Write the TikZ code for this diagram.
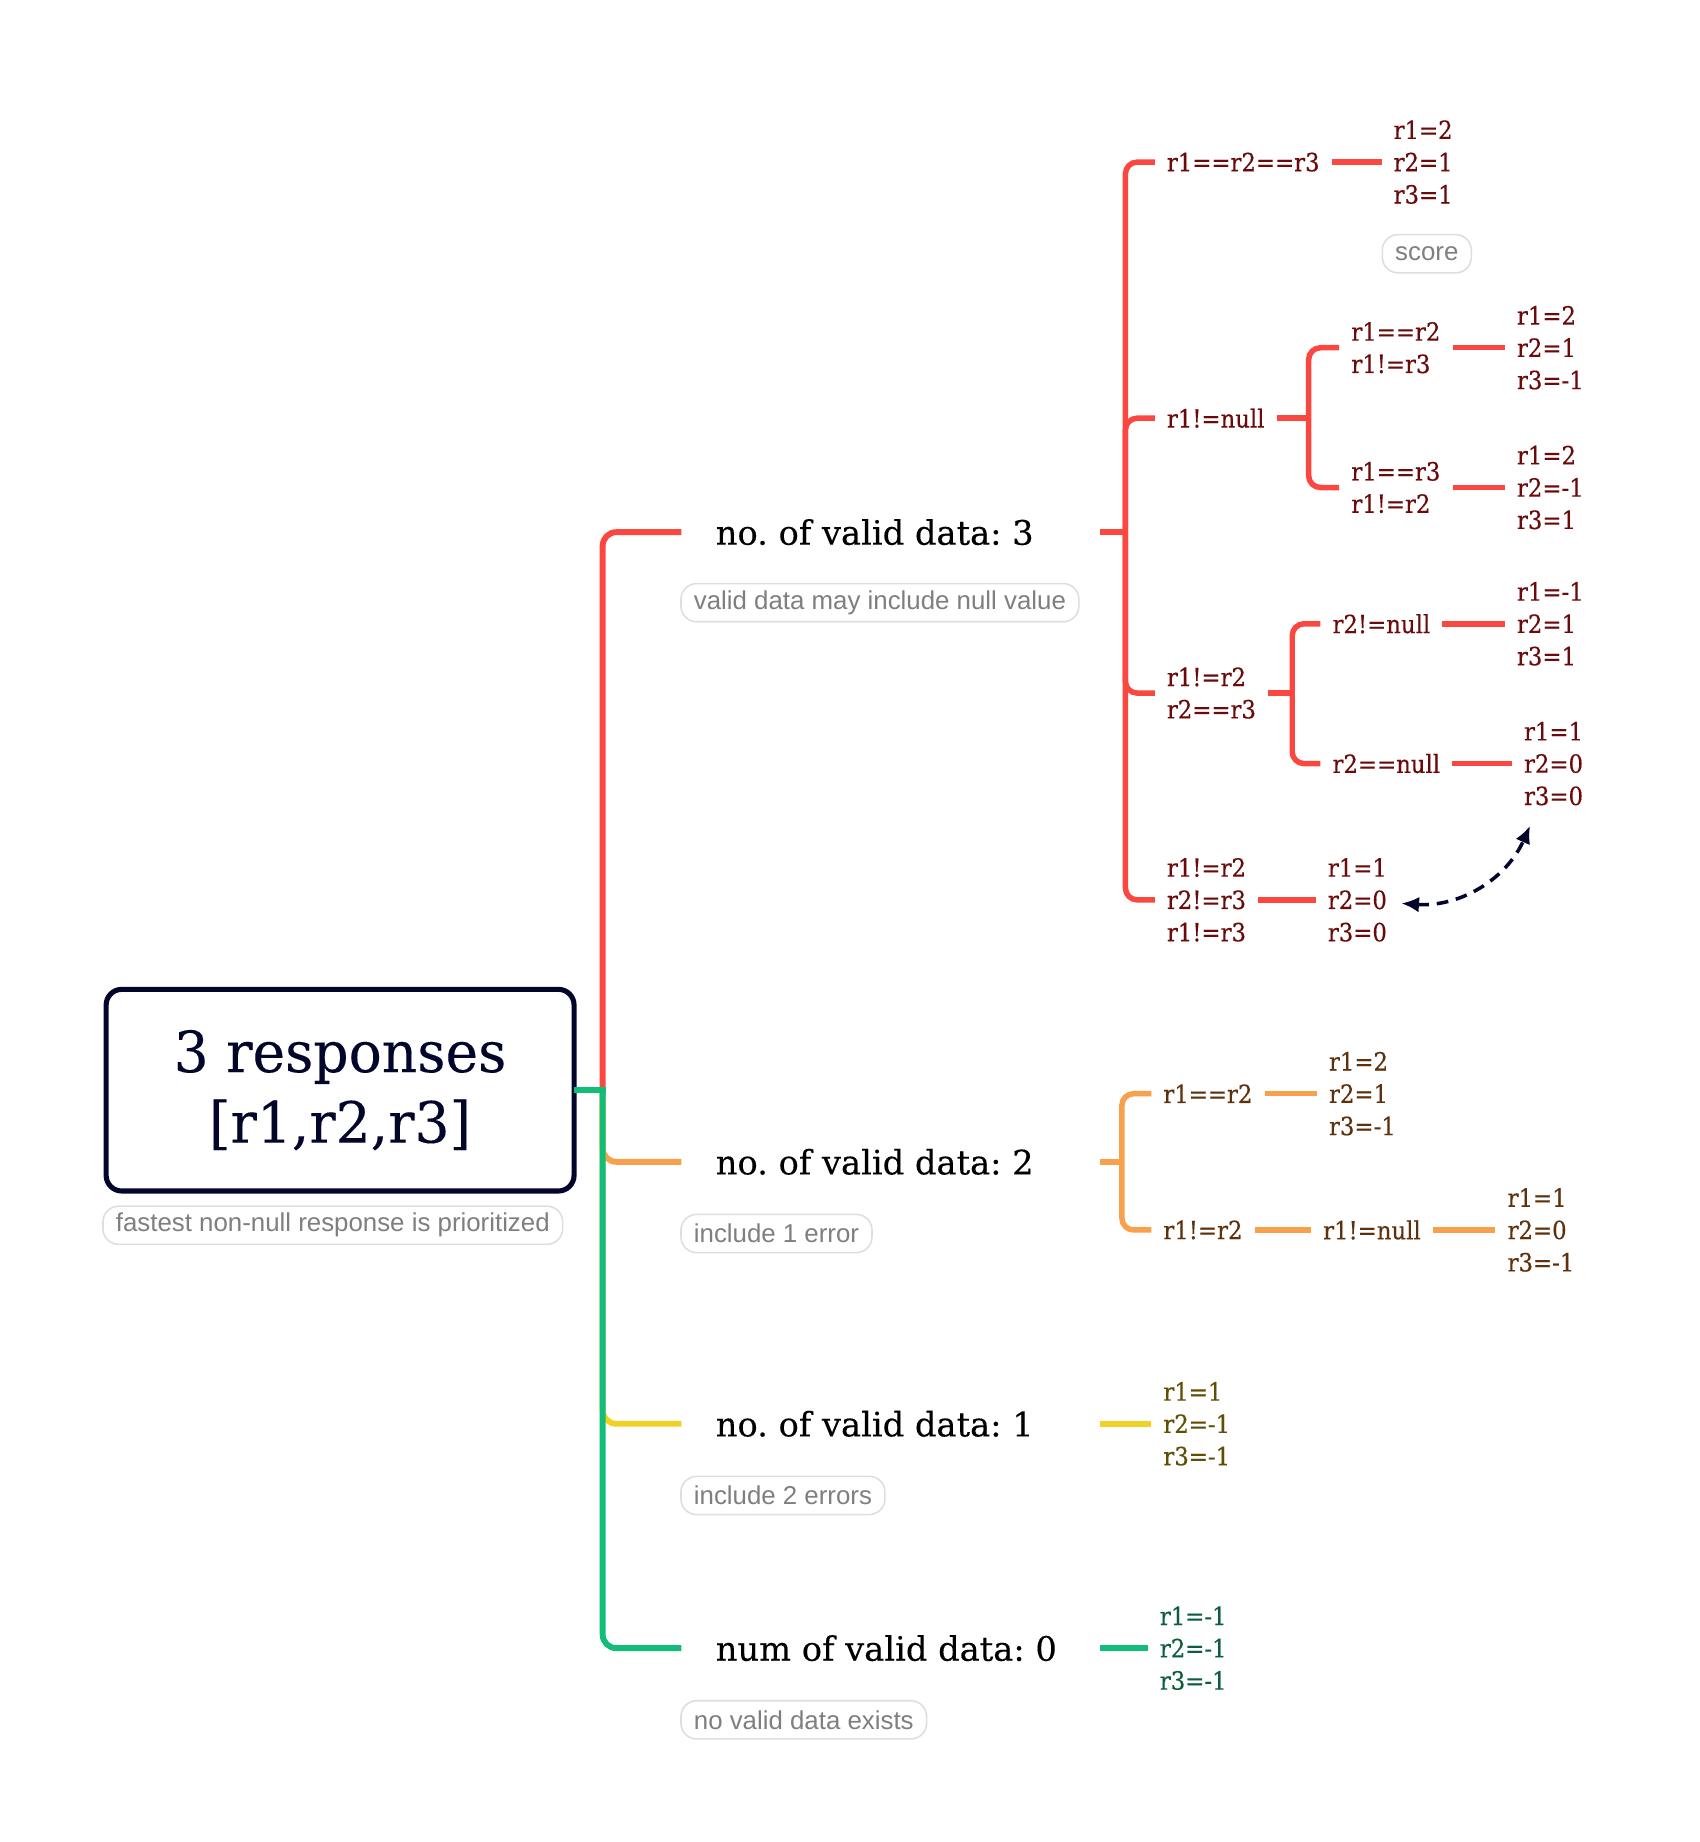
\documentclass[tikz,border=0pt]{standalone}
\usepackage{fontspec}
\setmainfont{DejaVu Serif}
\newfontfamily\smallfont[FakeStretch=0.91,FakeBold=0.3]{DejaVu Serif}
\newfontfamily\bigfont[FakeBold=0.2]{DejaVu Serif}
\newfontfamily\rootfont[FakeStretch=0.97,FakeBold=0.2]{DejaVu Serif}
\newfontfamily\notefont{Liberation Sans}
\frenchspacing
\usetikzlibrary{arrows.meta,calc}
\definecolor{xred}{HTML}{FA4840}
\definecolor{xorange}{HTML}{F8A04C}
\definecolor{xyellow}{HTML}{F2D024}
\definecolor{xgreen}{HTML}{12BC79}
\definecolor{tred}{HTML}{6A0A0A}
\definecolor{torange}{HTML}{5E300B}
\definecolor{tyellow}{HTML}{5F4E04}
\definecolor{tgreen}{HTML}{0B5E3B}
\definecolor{navy}{HTML}{03062B}
\definecolor{notegray}{HTML}{DEDEDE}
\definecolor{notetext}{HTML}{7F7F7F}
\begin{document}
\begin{tikzpicture}[x=0.6pt,y=-0.6pt,
  big/.style={anchor=west, inner xsep=17.4pt, inner ysep=0pt, text=black, font=\bigfont\fontsize{17.2}{20}\selectfont},
  small/.style={anchor=west, inner xsep=6pt, inner ysep=0pt, align=left, font=\smallfont\fontsize{12.8}{16.5}\selectfont},
  note/.style={anchor=west, draw=notegray, line width=0.8pt, rounded corners=8pt, fill=white, text=notetext, inner xsep=6.6pt, inner ysep=0pt, minimum height=19.5pt, font=\notefont\fontsize{13.2}{15}\selectfont},
  trunk/.style={line width=3pt, rounded corners=7pt},
  fork/.style={line width=2.8pt, rounded corners=6pt},
  lk/.style={line width=2.8pt},
  dasharrow/.style={navy, line width=1.8pt, dash pattern=on 6pt off 4pt, {Latex[length=9pt,width=8pt]}-{Latex[length=9pt,width=8pt]}},
]
\useasboundingbox (0,0) rectangle (1447,1568);

% ---------- nodes ----------
\node[draw=navy, line width=2.6pt, rounded corners=8pt, fill=white, minimum width=239pt, minimum height=103pt, align=center, text=navy, font=\rootfont\fontsize{29}{36}\selectfont] (root) at (289.5,928) {3 responses\\{[r1,r2,r3]}};
\node[note] (rootnote) at (87,1043) {fastest non-null response is prioritized};

\coordinate (tj) at (513,928);

\node[big] (b1) at (580,453) {\makebox[178.8pt][l]{no. of valid data: 3}};
\node[note] (n1) at (579,513) {valid data may include null value};
\node[big] (b2) at (580,989) {\makebox[178.8pt][l]{no. of valid data: 2}};
\node[note] (n2) at (579,1050) {include 1 error};
\node[big] (b3) at (580,1212) {\makebox[178.8pt][l]{no. of valid data: 1}};
\node[note] (n3) at (579,1273) {include 2 errors};
\node[big] (b4) at (580,1403) {\makebox[178.8pt][l]{num of valid data: 0}};
\node[note] (n4) at (579,1464) {no valid data exists};

% branch 1 (red)
\coordinate (f1) at (958,453);
\begin{scope}[every node/.style={small, text=tred}]
\node (c11) at (983,138) {r1==r2==r3};
\node (v11) at (1176,138) {r1=2\\r2=1\\r3=1};
\node (c12) at (983,356) {r1!=null};
\coordinate (f12) at (1114,356);
\node (c121) at (1140,296) {r1==r2\\r1!=r3};
\node (v121) at (1281,296) {r1=2\\r2=1\\r3=-1};
\node (c122) at (1140,415) {r1==r3\\r1!=r2};
\node (v122) at (1281,415) {r1=2\\r2=-1\\r3=1};
\node (c13) at (983,590) {r1!=r2\\r2==r3};
\coordinate (f13) at (1100,590);
\node (c131) at (1124,531) {r2!=null};
\node (v131) at (1281,531) {r1=-1\\r2=1\\r3=1};
\node (c132) at (1124,650) {r2==null};
\node (v132) at (1287,650) {r1=1\\r2=0\\r3=0};
\node (c14) at (983,766) {r1!=r2\\r2!=r3\\r1!=r3};
\node (v14) at (1120,766) {r1=1\\r2=0\\r3=0};
\end{scope}
\node[note] (score) at (1176,216) {score};

% branch 2 (orange)
\coordinate (f2) at (955,989);
\begin{scope}[every node/.style={small, text=torange}]
\node (c21) at (980,931) {r1==r2};
\node (v21) at (1121,931) {r1=2\\r2=1\\r3=-1};
\node (c22) at (980,1047) {r1!=r2};
\node (c23) at (1116,1047) {r1!=null};
\node (v23) at (1273,1047) {r1=1\\r2=0\\r3=-1};
\end{scope}

% branch 3 and 4
\node[small, text=tyellow] (v3) at (980,1212) {r1=1\\r2=-1\\r3=-1};
\node[small, text=tgreen] (v4) at (977,1403) {r1=-1\\r2=-1\\r3=-1};

% ---------- connectors ----------
\draw[trunk, xred] (tj) |- (b1.west);
\draw[trunk, xorange] (tj) |- (b2.west);
\draw[trunk, xyellow] (tj) |- (b3.west);
\draw[trunk, xgreen] (tj) |- (b4.west);
\draw[line width=3pt, xgreen, line cap=rect] (root.east) -- (tj);

% red
\draw[lk, xred] (b1.east) -- (f1);
\foreach \c in {c11,c12,c13,c14} \draw[fork, xred] (f1) |- (\c.west);
\draw[lk, xred] (c11.east) -- (v11.west);
\draw[lk, xred] (c12.east) -- (f12);
\foreach \c in {c121,c122} \draw[fork, xred] (f12) |- (\c.west);
\draw[lk, xred] (c121.east) -- (v121.west);
\draw[lk, xred] (c122.east) -- (v122.west);
\draw[lk, xred] (c13.east) -- (f13);
\foreach \c in {c131,c132} \draw[fork, xred] (f13) |- (\c.west);
\draw[lk, xred] (c131.east) -- (v131.west);
\draw[lk, xred] (c132.east) -- (v132.west);
\draw[lk, xred] (c14.east) -- (v14.west);
\draw[dasharrow] ($(v14.east)+(2,3)$) to[bend right=35] ($(v132.south)+(-20,17)$);

% orange
\draw[lk, xorange] (b2.east) -- (f2);
\foreach \c in {c21,c22} \draw[fork, xorange] (f2) |- (\c.west);
\draw[lk, xorange] (c21.east) -- (v21.west);
\draw[lk, xorange] (c22.east) -- (c23.west);
\draw[lk, xorange] (c23.east) -- (v23.west);

% yellow / green
\draw[lk, xyellow] (b3.east) -- (v3.west);
\draw[lk, xgreen] (b4.east) -- (v4.west);
\end{tikzpicture}
\end{document}
